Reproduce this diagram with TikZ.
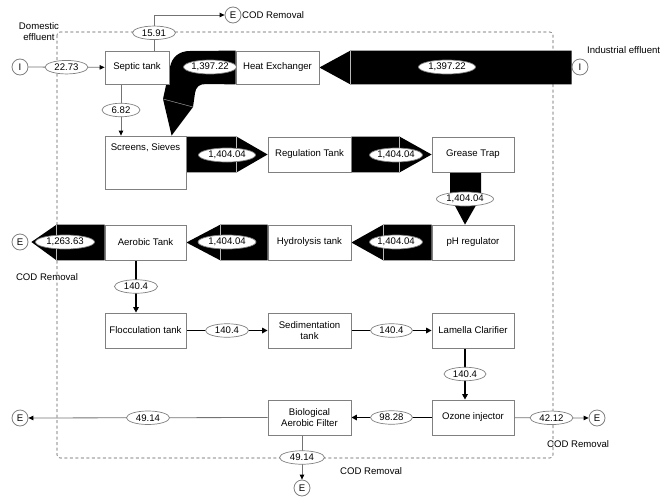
\documentclass[tikz,border=0pt]{standalone}
\usepackage{fontspec}
\setmainfont{Liberation Sans}
\usetikzlibrary{arrows.meta,calc,shapes.geometric}
\pgfdeclarelayer{bg}
\pgfsetlayers{bg,main}
\definecolor{boxgray}{gray}{0.5}
\definecolor{lngray}{gray}{0.45}
\definecolor{framegray}{gray}{0.35}

\begin{document}
\begin{tikzpicture}[x=1pt,y=-1pt,
  font=\fontsize{9.6}{11.5}\selectfont,
  box/.style={draw=boxgray, fill=white, line width=0.8pt, inner sep=1pt,
    align=center, minimum width=#1, minimum height=35pt},
  box/.default=83pt,
  val/.style={ellipse, draw=boxgray, fill=white, line width=0.7pt,
    inner sep=0pt, minimum height=13.5pt, minimum width=#1},
  val/.default=43pt,
  term/.style={circle, draw=boxgray, fill=white, line width=0.8pt,
    minimum size=16pt, inner sep=0pt},
  thinln/.style={draw=lngray, line width=0.8pt,
    -{Triangle[length=5pt,width=4.5pt,color=black]}},
  thickln/.style={draw=black, line width=1.8pt,
    -{Triangle[length=5.5pt,width=5.5pt]}},
  fat/.style={fill=black, draw=none},
  seam/.style={draw=gray!55, line width=0.4pt},
  frame/.style={draw=framegray, line width=0.6pt, dash pattern=on 3pt off 2.5pt,
    rounded corners=3pt},
  note/.style={inner sep=0pt, align=center}
]
\useasboundingbox (0,0) rectangle (669,498);

% ---- process units ----
\node[box=64pt, minimum height=33pt] (sep) at (137,67.5) {Septic tank};
\node[box, minimum height=33pt] (hx) at (277.5,67.5) {Heat Exchanger};
\node[box=81pt, minimum height=53pt,
  label={[anchor=north, yshift=-8pt, inner sep=0pt]north:{Screens, Sieves}}] (scr) at (145.5,162.5) {};
\node[box] (reg) at (309.5,154.5) {Regulation Tank};
\node[box=82pt] (gt) at (473,154.5) {Grease Trap};
\node[box=82pt] (ph) at (473,242.5) {pH regulator};
\node[box] (hyd) at (309.5,242.5) {Hydrolysis tank};
\node[box=81pt] (aer) at (145.5,242.5) {Aerobic Tank};
\node[box=81pt] (floc) at (145.5,330.5) {Flocculation tank};
\node[box] (sed) at (309.5,330.5) {Sedimentation\\tank};
\node[box=82pt] (lam) at (473,330.5) {Lamella Clarifier};
\node[box=82pt] (oz) at (473,417.5) {Ozone injector};
\node[box] (bio) at (309.5,417.5) {Biological\\Aerobic Filter};

% ---- inlets and outlets ----
\node[term] (iL) at (20,67) {I};
\node[term] (iR) at (580,67) {I};
\node[term] (eTop) at (233,15) {E};
\node[term] (eAer) at (20,242) {E};
\node[term] (eBioL) at (20,418) {E};
\node[term] (eOz) at (597,418) {E};
\node[term] (eBioD) at (302,488) {E};

% ---- captions ----
\node[note] (tDom) at (39,31.5) {Domestic\\effluent};
\node[note, anchor=west] (tInd) at (587,50) {Industrial effluent};
\node[note, anchor=west] (tCod1) at (242,15) {COD Removal};
\node[note] (tCod2) at (47,277) {COD Removal};
\node[note, anchor=west] (tCod3) at (547,444) {COD Removal};
\node[note, anchor=west] (tCod4) at (340,471) {COD Removal};

\begin{pgfonlayer}{bg}
  % treatment plant boundary
  \draw[frame] (57,32) rectangle (553,458);

  % ---- main (wide) flows ----
  % industrial effluent into the heat exchanger
  \fill[fat] (iR.west |- hx.north) -- ($(hx.north east)+(31,0)$) -- (hx.east)
    -- ($(hx.south east)+(31,0)$) -- (iR.west |- hx.south) -- cycle;
  \draw[seam] ($(hx.north east)+(31,0)$) -- ($(hx.south east)+(31,0)$);
  % heat exchanger down to screens
  \fill[fat] (hx.north west) -- (190,51) .. controls (179,51) and (172,57) .. (170,67)
    -- (163,99) -- ($(scr.north west)+(67,0)$) -- (193,107) -- (195,93)
    .. controls (196,87) and (199,84) .. (206,84) -- (hx.south west) -- cycle;
  \draw[seam] (163,99) -- (193,107);
  % screens -> regulation tank
  \fill[fat] (scr.east |- reg.north) -- ($(reg.north west)+(-31,0)$) -- (reg.west)
    -- ($(reg.south west)+(-31,0)$) -- (scr.east |- reg.south) -- cycle;
  \draw[seam] ($(reg.north west)+(-31,0)$) -- ($(reg.south west)+(-31,0)$);
  % regulation tank -> grease trap
  \fill[fat] (reg.east |- gt.north) -- ($(gt.north west)+(-32,0)$) -- (gt.west)
    -- ($(gt.south west)+(-32,0)$) -- (reg.east |- gt.south) -- cycle;
  \draw[seam] ($(gt.north west)+(-32,0)$) -- ($(gt.south west)+(-32,0)$);
  % grease trap -> pH regulator
  \fill[fat] ($(gt.south)+(-23,0)$) -- ($(gt.south)+(8,0)$) -- ($(gt.south)+(8,24)$)
    -- ($(ph.north)+(-8,0)$) -- ($(gt.south)+(-23,24)$) -- cycle;
  % pH regulator -> hydrolysis tank
  \fill[fat] (ph.west |- hyd.north) -- ($(hyd.north east)+(32,0)$) -- (hyd.east)
    -- ($(hyd.south east)+(32,0)$) -- (ph.west |- hyd.south) -- cycle;
  \draw[seam] ($(hyd.north east)+(32,0)$) -- ($(hyd.south east)+(32,0)$);
  % hydrolysis tank -> aerobic tank
  \fill[fat] (hyd.west |- aer.north) -- ($(aer.north east)+(34,0)$) -- (aer.east)
    -- ($(aer.south east)+(34,0)$) -- (hyd.west |- aer.south) -- cycle;
  \draw[seam] ($(aer.north east)+(34,0)$) -- ($(aer.south east)+(34,0)$);
  % aerobic tank -> COD removal
  \fill[fat] (aer.north west) -- ($(aer.north west)+(-48,0)$) -- ($(eAer.east)+(3,0)$)
    -- ($(aer.south west)+(-48,0)$) -- (aer.south west) -- cycle;
  \draw[seam] ($(aer.north west)+(-48,0)$) -- ($(aer.south west)+(-48,0)$);

  % ---- minor flows ----
  \draw[thinln] (iL) -- node[val]{22.73} (sep);
  \draw[thinln] ([xshift=17pt]sep.north) |- node[val, pos=0.25]{15.91} (eTop);
  \draw[thinln] ([xshift=-16pt]sep.south) -- node[val=38pt]{6.82}
    ([xshift=-16pt]sep.south |- scr.north);
  \draw[thickln] ([xshift=-9.5pt]aer.south) -- node[val]{140.4} ([xshift=-9.5pt]floc.north);
  \draw[thickln] (floc) -- node[val]{140.4} (sed);
  \draw[thickln] (sed) -- node[val=42pt]{140.4} (lam);
  \draw[thickln] ([xshift=-8pt]lam.south) -- node[val=42pt]{140.4} ([xshift=-8pt]oz.north);
  \draw[thickln] (oz) -- node[val=42pt]{98.28} (bio);
  \draw[thinln] (oz) -- node[val]{42.12} (eOz);
  \draw[thinln] (bio.west) -- node[val]{49.14} (eBioL);
  \draw[thinln] (bio.south -| eBioD) -- node[val=45pt]{49.14} (eBioD);
\end{pgfonlayer}

% ---- flow values on the wide flows ----
\node[val=50pt, minimum height=14pt] (v1) at (210,67) {1,397.22};
\node[val=57pt, minimum height=14pt] (v2) at (447,67) {1,397.22};
\node[val=57pt, minimum height=14pt] (v3) at (227,155) {1,404.04};
\node[val=48pt, minimum height=14pt] (v4) at (396,155) {1,404.04};
\node[val=57pt, minimum height=14pt] (v5) at (465,199) {1,404.04};
\node[val=48pt, minimum height=14pt] (v6) at (396,242) {1,404.04};
\node[val=58pt, minimum height=14pt] (v7) at (227,242) {1,404.04};
\node[val=59pt, minimum height=14pt] (v8) at (65,242) {1,263.63};
\end{tikzpicture}
\end{document}
